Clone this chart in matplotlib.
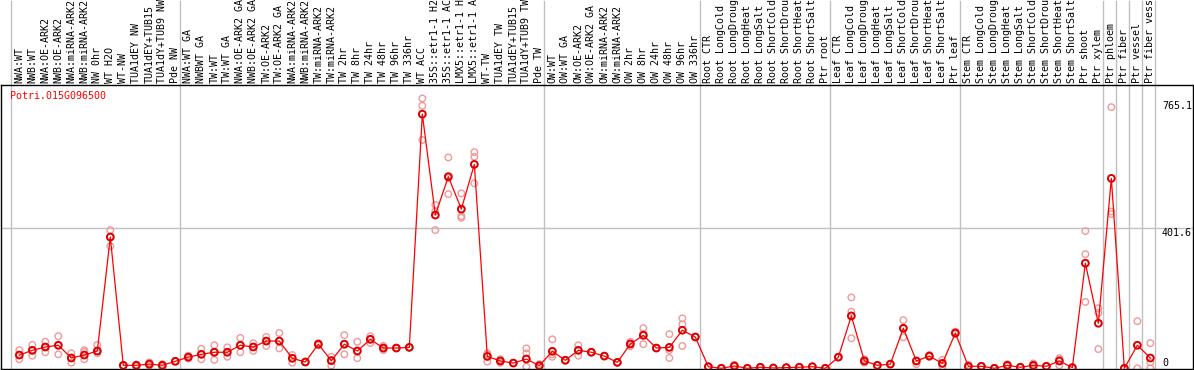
import matplotlib
matplotlib.use('Agg')
import matplotlib.pyplot as plt
from matplotlib.transforms import blended_transform_factory

# ---------------- data ----------------
gene_id = "Potri.015G096500"

sample_labels = [
    "NWA:WT", "NWB:WT", "NWA:OE-ARK2", "NWB:OE-ARK2", "NWA:miRNA-ARK2", "NWB:miRNA-ARK2",
    "NW 0hr", "WT H2O", "WT-NW", "TUA1dEY NW", "TUA1dEY+TUB15", "TUA1dY+TUB9 NW", "Pde NW",
    "NWA:WT GA", "NWBWT GA", "TW:WT", "TW:WT GA", "NWA:OE-ARK2 GA", "NWB:OE-ARK2 GA",
    "TW:OE-ARK2", "TW:OE-ARK2 GA", "NWA:miRNA-ARK2", "NWB:miRNA-ARK2", "TW:miRNA-ARK2",
    "TW:miRNA-ARK2", "TW 2hr", "TW 8hr", "TW 24hr", "TW 48hr", "TW 96hr", "TW 336hr",
    "WT ACC", "35S::etr1-1 H2", "35S::etr1-1 AC", "LMX5::etr1-1 H", "LMX5::etr1-1 A",
    "WT-TW", "TUA1dEY TW", "TUA1dEY+TUB15", "TUA1dY+TUB9 TW", "Pde TW",
    "OW:WT", "OW:WT GA", "OW:OE-ARK2", "OW:OE-ARK2 GA", "OW:miRNA-ARK2", "OW:miRNA-ARK2",
    "OW 2hr", "OW 8hr", "OW 24hr", "OW 48hr", "OW 96hr", "OW 336hr",
    "Root CTR", "Root LongCold", "Root LongDroug", "Root LongHeat", "Root LongSalt",
    "Root ShortCold", "Root ShortDrou", "Root ShortHeat", "Root ShortSalt", "Ptr root",
    "Leaf CTR", "Leaf LongCold", "Leaf LongDroug", "Leaf LongHeat", "Leaf LongSalt",
    "Leaf ShortCold", "Leaf ShortDrou", "Leaf ShortHeat", "Leaf ShortSalt", "Ptr leaf",
    "Stem CTR", "Stem LongCold", "Stem LongDroug", "Stem LongHeat", "Stem LongSalt",
    "Stem ShortCold", "Stem ShortDrou", "Stem ShortHeat", "Stem ShortSalt", "Ptr shoot",
    "Ptr xylem", "Ptr phloem", "Ptr fiber", "Ptr vessel", "Ptr fiber vess",
]

# number of samples in each experiment block (separated by grey lines)
group_sizes = [13, 28, 12, 10, 10, 11, 1, 1, 1, 1]

mean_values = [
    38, 51.5, 61, 66, 29.5, 38, 49.5, 376, 8.5, 8.5, 12, 8.5, 20,
    32, 40, 46, 46, 66, 61, 78, 78, 28.6, 18, 69, 22, 69, 49.5, 83, 58, 58, 60,
    728, 439, 549, 456, 584, 34, 21, 15, 26.6, 7.5,
    48.7, 23, 51.5, 46, 35, 17, 69.6, 94.5, 58, 60, 109, 89.6,
    4.6, 0, 6.6, 0, 3, 1, 2, 3, 4.6, 0,
    32, 150, 21, 8.5, 12, 114.6, 21, 35, 14, 101,
    5.7, 5.7, 0, 8.5, 3, 8.5, 5.7, 21, 2, 301, 129,
    544, 0, 66, 29.5,
]

replicate_values = [
    [52, 26, 38], [67, 36, 51], [76, 46, 61], [92, 40, 66], [43, 16, 30],
    [52, 47, 26], [67, 43, 49], [396, 350, 376], [8, 8, 8], [11, 6, 8],
    [17, 8, 12], [12, 5, 8], [20, 20, 20],
    [36, 32, 28], [56, 26, 40], [66, 24, 46], [60, 33, 46], [87, 46, 66],
    [72, 50, 61], [90, 64, 78], [101, 57, 78], [38, 16, 29], [18, 18, 18],
    [72, 69, 66], [33, 8, 22], [95, 40, 69], [76, 29, 50], [92, 72, 83],
    [64, 52, 58], [58, 58, 58], [60, 60, 60], [773, 752, 654], [468, 396, 450],
    [604, 499, 545], [501, 431, 436], [619, 606, 530], [43, 19, 40], [26, 16, 21],
    [15, 15, 15], [57, 43, 4.6], [12, 5, 7],
    [83, 33, 40], [23, 23, 23], [66, 36, 52], [46, 46, 46], [35, 35, 35],
    [17, 17, 17], [76, 63, 70], [115, 69, 99], [58, 58, 58], [98, 29.5, 52],
    [143, 126, 64], [90, 90, 90],
    [5, 5, 5], [0, 0, 0], [10, 5, 5], [0, 0, 0], [3, 3, 3], [1, 1, 1],
    [2, 2, 2], [3, 3, 3], [5, 5, 5], [0, 0, 0],
    [32, 32, 32], [203, 162, 86], [26, 16, 21], [8, 8, 8], [12, 12, 12],
    [138, 89, 115], [21, 12, 21], [38, 35, 33], [24, 5, 14], [105, 100, 98],
    [10, 4, 4], [6, 6, 6], [0, 0, 0], [12, 8, 6], [3, 3, 3], [14, 8, 4],
    [6, 6, 6], [29, 8.5, 25], [2, 2, 2], [393, 327, 190], [172, 159, 55],
    [748, 449, 442], [0, 0, 0], [135, 0, 66], [72, 0, 17],
]

axis_max_label = 765.1
axis_mid_label = 401.6

# ---------------- figure ----------------
W, H = 1194, 370
fig = plt.figure(figsize=(W / 100, H / 100), dpi=100)
ax = fig.add_axes([1 / W, 1 / H, 1192 / W, 284 / H])
ax.set_xlim(-1.408, 90.28)
ax.set_ylim(-2.0, 811.5)
ax.set_xticks([])
ax.set_yticks([])
for s in ax.spines.values():
    s.set_color('black')
    s.set_linewidth(1.0)

mono = 'DejaVu Sans Mono'
fs = 7.2
grey = '#c0c0c0'

# group separator lines (span whole figure height)
b = 0
bounds = [0]
for g in group_sizes:
    b += g
    bounds.append(b)
for bd in bounds:
    ax.axvline(bd - 0.64, ymin=0, ymax=368 / 284, color=grey, lw=1.0,
               clip_on=False, zorder=0.5)

# horizontal reference line
ax.axhline(axis_mid_label, color=grey, lw=1.0, zorder=0.5)

x = list(range(len(mean_values)))

# replicates
for i, reps in enumerate(replicate_values):
    ax.scatter([i] * len(reps), reps, s=22, facecolors='none',
               edgecolors='#ee9a9a', linewidths=1.0, zorder=2, clip_on=True)

# mean line + markers
ax.plot(x, mean_values, color='#ff0000', lw=0.9, zorder=3)
ax.scatter(x, mean_values, s=24, facecolors='none', edgecolors='#dd0000',
           linewidths=1.4, zorder=4)

# sample labels above plot
trans = blended_transform_factory(ax.transData, ax.transAxes)
for i, lab in enumerate(sample_labels):
    ax.text(i, 286 / 284, lab, rotation=90, ha='center', va='bottom',
            fontsize=fs, family=mono, color='black', transform=trans,
            clip_on=False)

# gene id
ax.text(9 / 1192, (369 - 96) / 284, gene_id, ha='left', va='center',
        fontsize=fs, family=mono, color='#ff0000', transform=ax.transAxes)

# value labels on right
xr = (1162 - 1) / 1192
ytrans = blended_transform_factory(ax.transAxes, ax.transData)
ax.text(xr, axis_max_label, f"{axis_max_label}", ha='left', va='top',
        fontsize=fs, family=mono, transform=ytrans)
ax.text(xr, axis_mid_label, f"{axis_mid_label}", ha='left', va='top',
        fontsize=fs, family=mono, transform=ytrans)
ax.text(xr, 0, "0", ha='left', va='bottom', fontsize=fs, family=mono,
        transform=ytrans)

fig.savefig('out.png', dpi=100)
